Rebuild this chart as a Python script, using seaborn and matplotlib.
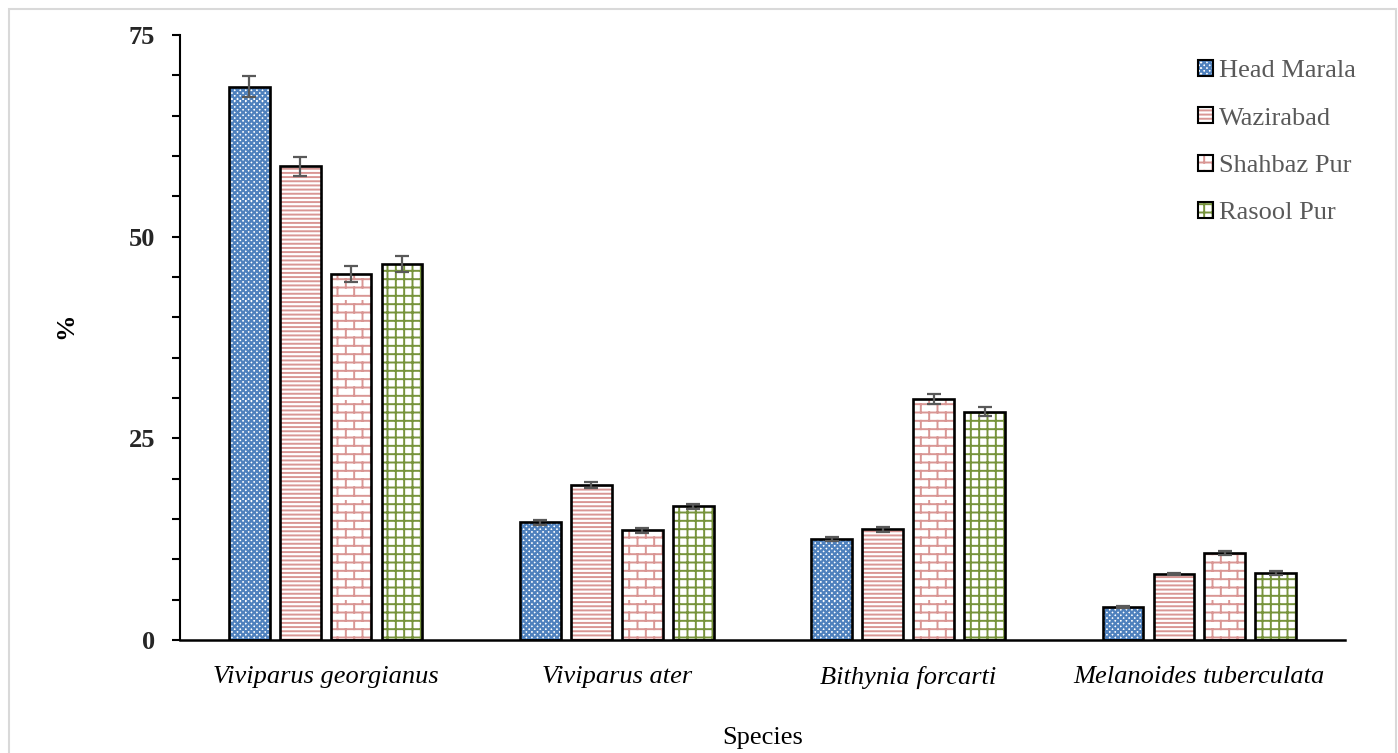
import warnings
warnings.filterwarnings("ignore")
import numpy as np
import pandas as pd
import matplotlib
matplotlib.use("Agg")
import matplotlib.pyplot as plt
import matplotlib.patches as mpatches
from matplotlib import hatch as mhatch
from matplotlib.path import Path
from matplotlib.ticker import MultipleLocator
from matplotlib.legend_handler import HandlerTuple
from matplotlib.container import BarContainer
import seaborn as sns

# ---------------- data ----------------
species = ["Viviparus georgianus", "Viviparus ater", "Bithynia forcarti", "Melanoides tuberculata"]
sites = ["Head Marala", "Wazirabad", "Shahbaz Pur", "Rasool Pur"]
head_marala = [68.6, 14.6, 12.5, 4.1]
wazirabad = [58.7, 19.2, 13.7, 8.2]
shahbaz_pur = [45.4, 13.6, 29.9, 10.8]
rasool_pur = [46.6, 16.6, 28.3, 8.3]
err_head_marala = [1.3, 0.3, 0.25, 0.15]
err_wazirabad = [1.2, 0.35, 0.3, 0.15]
err_shahbaz_pur = [1.0, 0.3, 0.6, 0.25]
err_rasool_pur = [1.0, 0.3, 0.55, 0.2]
y_ticks = [0, 25, 50, 75]

values = [head_marala, wazirabad, shahbaz_pur, rasool_pur]
errors = [err_head_marala, err_wazirabad, err_shahbaz_pur, err_rasool_pur]

# ---------------- custom hatches ----------------
HATCH_LW = 1.4
W_UNIT = HATCH_LW * 100 / 72 / 100.0


class CheckerHatch(mhatch.HatchPatternBase):
    def __init__(self, hatch, density):
        self.n = 36
        on = "c" in hatch
        self.cells = ([(i, j) for i in range(self.n) for j in range(self.n) if (i + j) % 2 == 0]
                      if on else [])
        self.num_vertices = 5 * len(self.cells)
        self.filled = True

    def set_vertices_and_codes(self, vertices, codes):
        c = 1.0 / self.n
        s = max(c - W_UNIT * 0.45, c * 0.25)
        off = (c - s) / 2
        k = 0
        for i, j in self.cells:
            x0 = i * c + off
            y0 = j * c + off
            vertices[k:k + 5] = [(x0, y0), (x0 + s, y0), (x0 + s, y0 + s), (x0, y0 + s), (x0, y0)]
            codes[k:k + 5] = [Path.MOVETO, Path.LINETO, Path.LINETO, Path.LINETO, Path.CLOSEPOLY]
            k += 5


class BrickHatch(mhatch.HatchPatternBase):
    def __init__(self, hatch, density):
        self.on = "b" in hatch
        self.rows = 12
        self.cols = 6
        self.num_vertices = (2 * self.rows + 2 * self.rows * self.cols) if self.on else 0

    def set_vertices_and_codes(self, vertices, codes):
        k = 0
        for r in range(self.rows):
            y = (r + 0.5) / self.rows
            vertices[k] = (0, y)
            vertices[k + 1] = (1, y)
            codes[k] = Path.MOVETO
            codes[k + 1] = Path.LINETO
            k += 2
        for r in range(self.rows):
            y0 = (r + 0.5) / self.rows
            y1 = (r + 1.5) / self.rows
            for cc in range(self.cols):
                x = (cc + 0.25 + 0.5 * (r % 2)) / self.cols
                vertices[k] = (x, y0)
                vertices[k + 1] = (x, y1)
                codes[k] = Path.MOVETO
                codes[k + 1] = Path.LINETO
                k += 2


mhatch._hatch_types.extend([CheckerHatch, BrickHatch])

# ---------------- styles ----------------
hatch_colors = ["#4F81BD", "#D99694", "#D99694", "#77933C"]
hatches = ["c", "----", "b", "++"]

sns.set_theme(style="white")
plt.rcParams["font.family"] = ["Liberation Serif", "DejaVu Serif"]
plt.rcParams["hatch.linewidth"] = HATCH_LW

fig = plt.figure(figsize=(13.98, 7.53), dpi=100)
ax = fig.add_axes([180 / 1398, 1 - 640 / 753, (1345 - 180) / 1398, (640 - 35) / 753])

rows = []
for site, vals in zip(sites, values):
    for sp, v in zip(species, vals):
        rows.append({"Species": sp, "Site": site, "Value": v})
df = pd.DataFrame(rows)

sns.barplot(data=df, x="Species", y="Value", hue="Site", order=species, hue_order=sites,
            palette=["white"] * 4, width=0.7, gap=0.2, errorbar=None, legend=False,
            saturation=1, ax=ax)

bar_containers = [c for c in ax.containers if isinstance(c, BarContainer)]
for h, cont in enumerate(bar_containers):
    for i, p in enumerate(cont.patches):
        p.set_facecolor("white")
        p.set_hatch(hatches[h])
        p.set_edgecolor(hatch_colors[h])
        p.set_linewidth(0)
        p.set_zorder(2)
        outline = mpatches.Rectangle((p.get_x(), p.get_y()), p.get_width(), p.get_height(),
                                     fill=False, edgecolor="black", linewidth=1.9, zorder=3)
        ax.add_patch(outline)
        ax.errorbar(p.get_x() + p.get_width() / 2, p.get_height(), yerr=errors[h][i],
                    fmt="none", ecolor="#595959", elinewidth=1.6, capsize=5, capthick=1.6,
                    zorder=5)

ax.set_ylim(0, 75)
ax.set_xlim(-0.5, len(species) - 0.5)
ax.yaxis.set_major_locator(MultipleLocator(25))
ax.yaxis.set_minor_locator(MultipleLocator(5))
ax.set_yticks(y_ticks)
ax.set_yticklabels([str(t) for t in y_ticks], fontweight="bold", fontsize=19)
ax.tick_params(axis="y", which="both", direction="out", length=6, width=1.5, left=True,
               color="black", pad=12)
ax.tick_params(axis="x", which="both", length=0, pad=19)
for lab in ax.get_xticklabels():
    lab.set_fontstyle("italic")
    lab.set_fontsize(19)
    lab.set_color("black")

for s in ["top", "right"]:
    ax.spines[s].set_visible(False)
ax.spines["left"].set_color("black")
ax.spines["left"].set_linewidth(1.5)
ax.spines["bottom"].set_color("black")
ax.spines["bottom"].set_linewidth(1.8)

ax.set_xlabel("Species", fontsize=19, color="black")
ax.xaxis.set_label_coords(0.5, -0.143)
ax.set_ylabel("%", fontsize=19, fontweight="bold", color="black")
ax.yaxis.set_label_coords(-0.088, 0.52)

handles = []
for h in range(4):
    hp = mpatches.Patch(facecolor="white", hatch=hatches[h], edgecolor=hatch_colors[h], linewidth=0)
    op = mpatches.Patch(fill=False, edgecolor="black", linewidth=1.5)
    handles.append((hp, op))
leg = fig.legend(handles, sites, handler_map={tuple: HandlerTuple(ndivide=1, pad=0)},
                 loc="upper left", bbox_to_anchor=(1198 / 1398, 1 - 60 / 753),
                 frameon=False, borderpad=0, borderaxespad=0, fontsize=19,
                 handlelength=0.55, handleheight=0.55, handletextpad=0.25, labelspacing=0.95)
for t in leg.get_texts():
    t.set_color("#595959")

fig.patches.append(mpatches.Rectangle((9 / 1398, -0.02), (1396 - 9) / 1398, (753 - 9) / 753 + 0.02,
                                      transform=fig.transFigure, fill=False,
                                      edgecolor="#d9d9d9", linewidth=1.5))

fig.savefig("out.png", dpi=100)
